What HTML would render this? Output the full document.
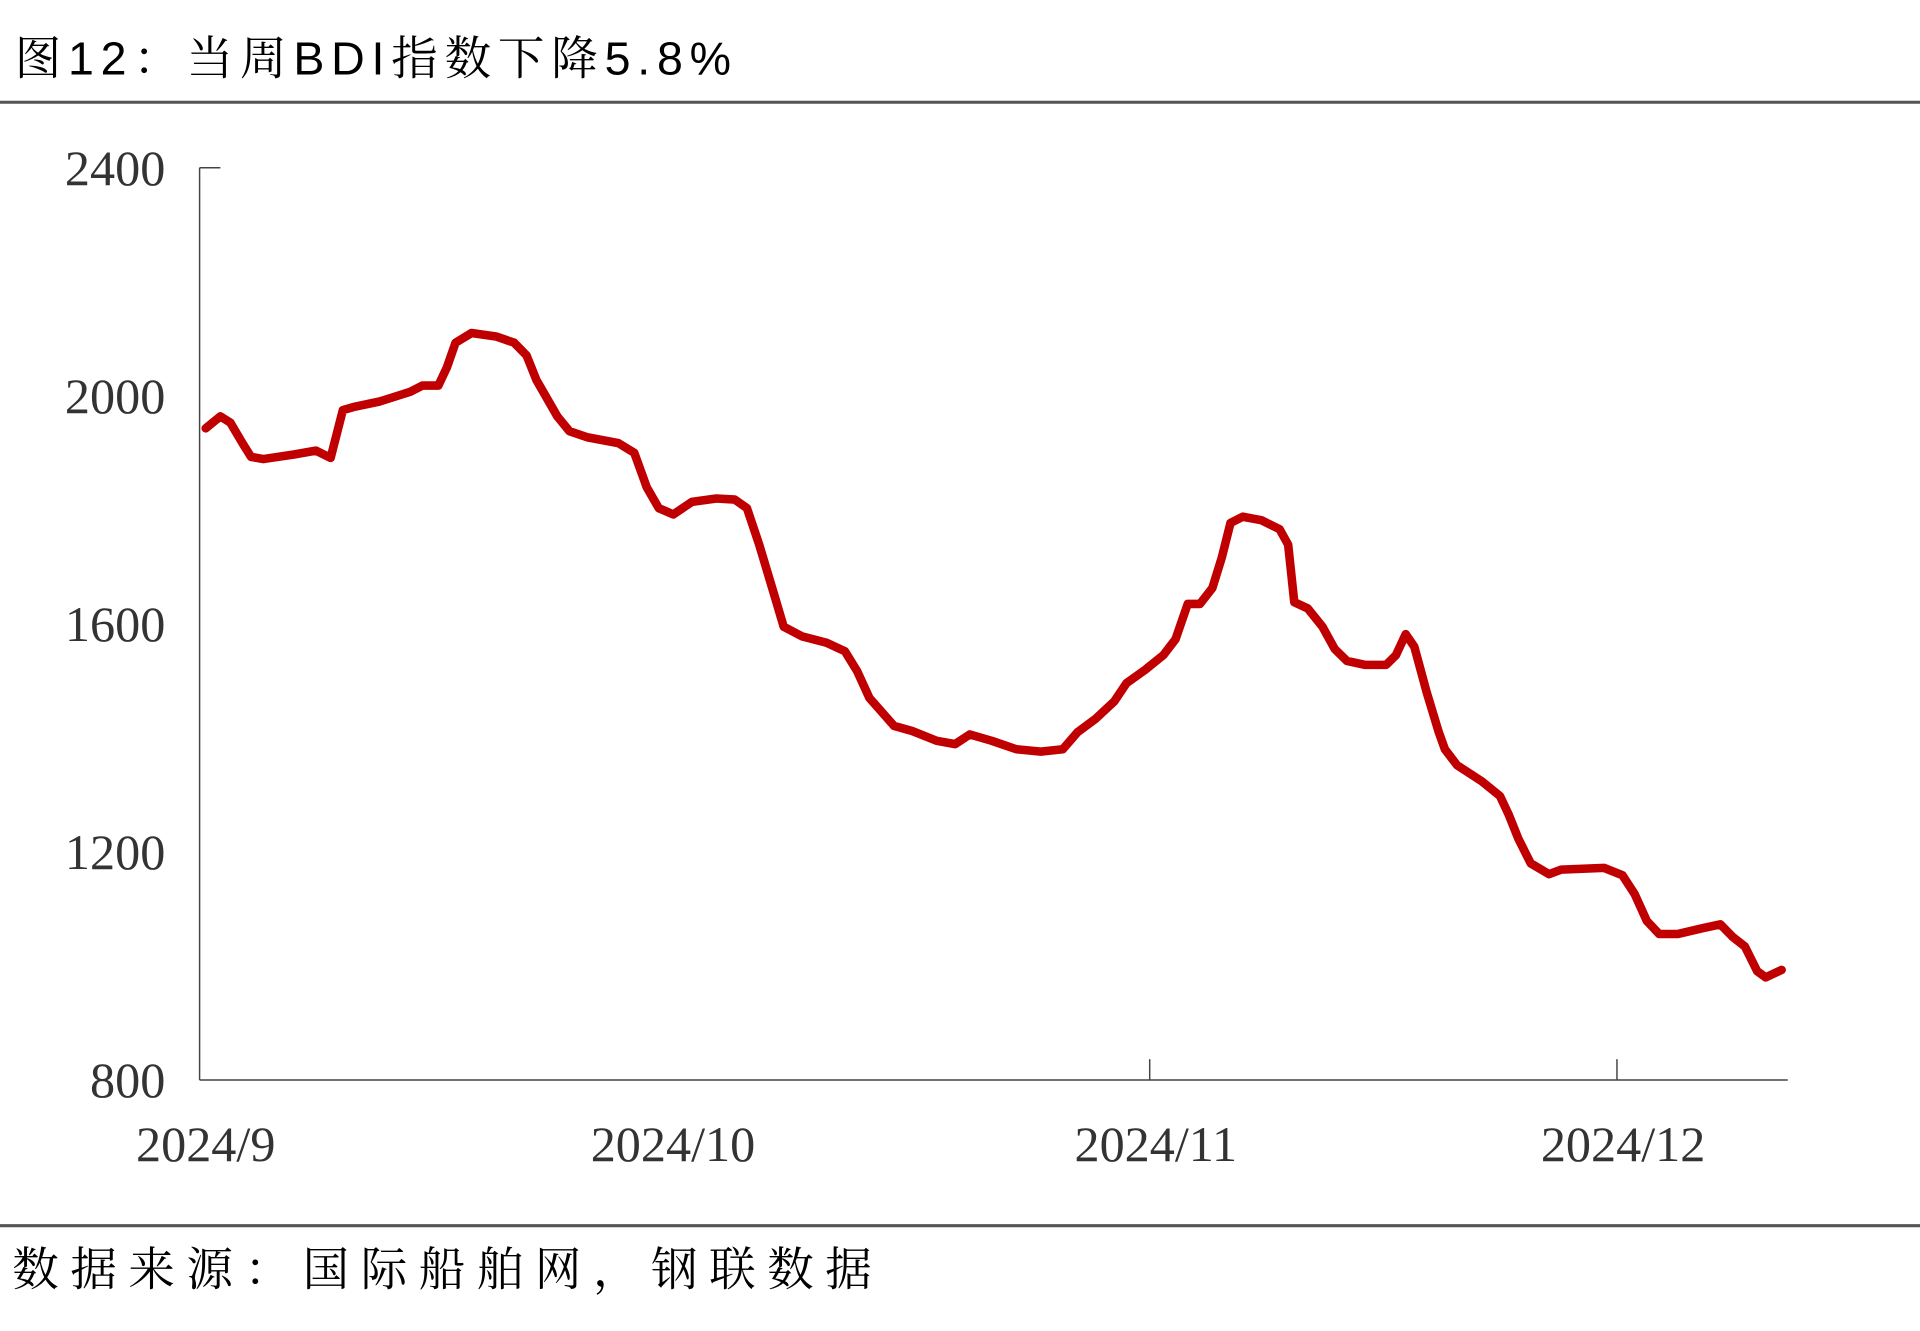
<!DOCTYPE html>
<html><head><meta charset="utf-8"><style>
html,body{margin:0;padding:0;background:#fff;}
svg{display:block;}
</style></head><body>
<svg width="1920" height="1331" viewBox="0 0 1568 1087" preserveAspectRatio="none" xmlns="http://www.w3.org/2000/svg">
<text x="12" y="61" textLength="585" lengthAdjust="spacing" font-family="Liberation Sans, Noto Serif CJK SC, serif" font-size="38" fill="#000">图12：当周BDI指数下降5.8%</text>
<line x1="0" y1="83.5" x2="1568" y2="83.5" stroke="#555" stroke-width="2.5"/>
<line x1="0" y1="1001" x2="1568" y2="1001" stroke="#555" stroke-width="2.5"/>
<text x="10" y="1050" textLength="702" lengthAdjust="spacing" font-family="Liberation Sans, Noto Serif CJK SC, serif" font-size="38" fill="#000">数据来源：国际船舶网，钢联数据</text>
<g id="axes"></g>
<g id="plot"></g>
</svg>
<script>
const dayOffsets=[0.39,1.34,1.97,2.75,3.30,4.09,6.05,7.47,8.41,9.20,9.98,11.56,13.52,14.31,15.33,15.88,16.43,17.45,19.03,20.20,20.99,21.62,22.96,23.74,24.92,26.89,27.91,28.70,29.48,30.42,31.60,33.18,34.36,35.14,35.93,36.87,37.50,38.68,40.25,41.43,42.22,43.00,44.58,45.75,47.33,48.51,49.45,50.86,52.44,54.01,55.42,56.37,57.55,58.73,59.51,60.69,61.87,62.66,63.44,64.23,65.02,65.64,66.19,66.98,68.16,69.34,69.89,70.28,71.15,72.09,72.88,73.66,74.84,76.18,76.81,77.44,77.99,78.77,79.56,79.95,80.74,82.31,83.49,84.04,84.67,85.46,86.64,87.42,90.17,91.35,92.14,92.92,93.71,94.89,96.46,97.64,98.43,99.21,100.00,100.55,101.57];
const bdiValues=[1943,1964,1953,1917,1893,1889,1897,1904,1891,1975,1981,1990,2007,2018,2018,2050,2093,2110,2104,2093,2071,2028,1964,1938,1927,1917,1900,1840,1803,1792,1814,1820,1818,1803,1739,1653,1595,1578,1567,1552,1517,1470,1421,1412,1395,1389,1406,1395,1380,1376,1380,1410,1434,1464,1496,1519,1545,1573,1635,1635,1663,1717,1777,1788,1782,1766,1739,1638,1627,1595,1556,1535,1528,1528,1545,1582,1560,1481,1410,1380,1352,1324,1298,1266,1223,1180,1161,1169,1172,1159,1126,1079,1056,1056,1066,1073,1051,1034,991,980,993];
const yTicks=[800,1200,1600,2000,2400];
const xTickDays=[0,30,61,91];
const xTickLabels=["2024/9","2024/10","2024/11","2024/12"];
const NS="http://www.w3.org/2000/svg";
const x=d=>163+d*12.72;
const y=v=>882-(v-800)*186.25/400;
const axes=document.getElementById('axes'),plot=document.getElementById('plot');
function mk(tag,attrs,parent){const e=document.createElementNS(NS,tag);for(const k in attrs)e.setAttribute(k,attrs[k]);parent.appendChild(e);return e;}
let e=mk('line',{x1:163,y1:137,x2:163,y2:882,stroke:'#444','stroke-width':1.2},axes);


e=mk('line',{x1:163,y1:882,x2:1460,y2:882,stroke:'#444','stroke-width':1.2},axes);


e=mk('line',{x1:163,y1:137,x2:180,y2:137,stroke:'#444','stroke-width':1.2},axes);


yTicks.forEach(v=>{const t=mk('text',{x:135,y:y(v)+14,'text-anchor':'end','font-family':'Liberation Serif, serif','font-size':41,fill:'#333'},axes);t.textContent=v;

});
xTickDays.forEach((d,i)=>{if(i>=2){const l=mk('line',{x1:x(d),y1:865,x2:x(d),y2:882,stroke:'#444','stroke-width':1.2},axes);

}
const t=mk('text',{x:x(d)+5,y:948,'text-anchor':'middle','font-family':'Liberation Serif, serif','font-size':41,fill:'#333'},axes);t.textContent=xTickLabels[i];

});
const pts=dayOffsets.map((d,i)=>x(d).toFixed(1)+','+y(bdiValues[i]).toFixed(1)).join(' ');
const pl=mk('polyline',{points:pts,fill:'none',stroke:'#c00000','stroke-width':7,'stroke-linejoin':'round','stroke-linecap':'round'},plot);


</script>
</body></html>
